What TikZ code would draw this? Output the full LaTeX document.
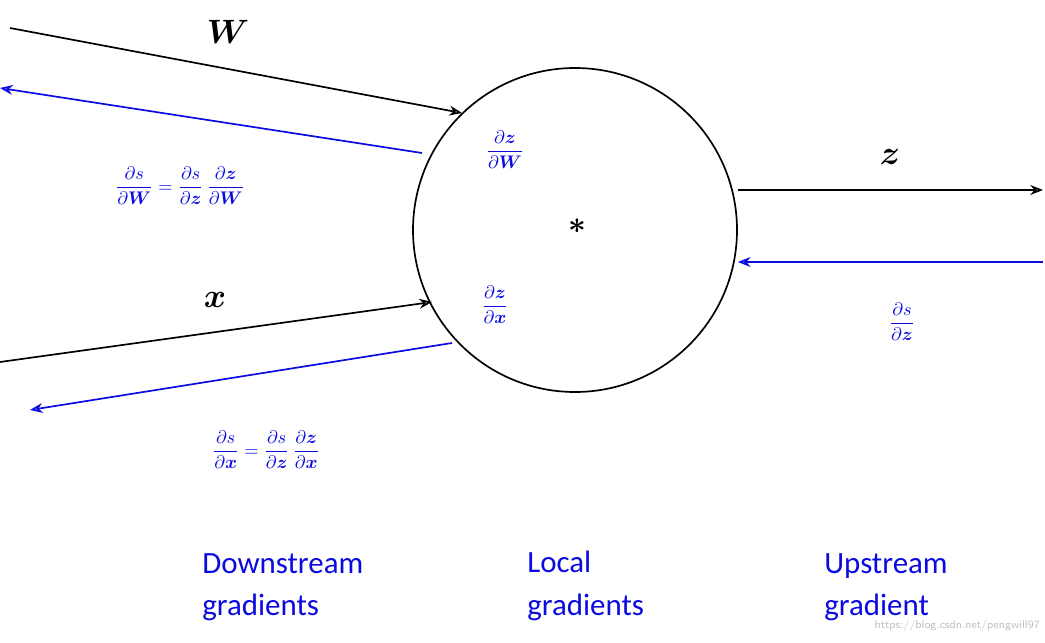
\documentclass[tikz,border=0pt]{standalone}
\usepackage{amsmath,bm}
\usepackage{fontspec}
\usetikzlibrary{arrows.meta}
\newfontfamily\myCal{Carlito}
\definecolor{bl}{RGB}{10,10,225}
\begin{document}
\begin{tikzpicture}[x=0.025cm,y=-0.025cm,
  blk/.style={black,line width=1.2pt,-{Stealth[length=9pt,width=7pt,open]}},
  blu/.style={bl,line width=1.2pt,-{Stealth[length=9pt,width=7pt,open]}},
  mth/.style={inner sep=0pt,scale=1.3},
  lbl/.style={inner sep=0pt,scale=2.4},
  txt/.style={bl,align=left,anchor=west,inner sep=0pt,font=\myCal\fontsize{22}{30}\selectfont}]
\useasboundingbox (0,0) rectangle (1045,643);
\node[circle,draw,line width=1.2pt,minimum size=324*0.025cm] (n) at (575,230) {};
\node[inner sep=0pt,scale=2.2] (star) at (577,226) {$\bm{*}$};
\coordinate (w0) at (10,28); \coordinate (w1) at (462,113);
\coordinate (wb0) at (422,153); \coordinate (wb1) at (0,88);
\coordinate (x0) at (0,362); \coordinate (x1) at (432,302);
\coordinate (xb0) at (452,343); \coordinate (xb1) at (30,410);
\coordinate (z1) at (1043,190); \coordinate (zb0) at (1043,262);
\draw[blk] (w0) -- (w1);
\draw[blu] (wb0) -- (wb1);
\draw[blk] (x0) -- (x1);
\draw[blu] (xb0) -- (xb1);
\draw[blk] (n.east |- z1) -- (z1);
\draw[blu] (zb0) -- (n.east |- zb0);
\node[lbl] (W) at (228,32) {$\bm{W}$};
\node[lbl] (x) at (215,300) {$\bm{x}$};
\node[lbl] (z) at (890,157) {$\bm{z}$};
\node[mth,bl] (dzdW) at (505,150) {$\dfrac{\partial \bm{z}}{\partial \bm{W}}$};
\node[mth,bl] (dzdx) at (495,305) {$\dfrac{\partial \bm{z}}{\partial \bm{x}}$};
\node[mth,bl] (dsdz) at (902,322) {$\dfrac{\partial s}{\partial \bm{z}}$};
\node[mth,bl] (fW) at (180,186) {$\dfrac{\partial s}{\partial \bm{W}}=\dfrac{\partial s}{\partial \bm{z}}\,\dfrac{\partial \bm{z}}{\partial \bm{W}}$};
\node[mth,bl] (fx) at (266,450) {$\dfrac{\partial s}{\partial \bm{x}}=\dfrac{\partial s}{\partial \bm{z}}\,\dfrac{\partial \bm{z}}{\partial \bm{x}}$};
\node[txt] (d) at (202,587) {Downstream\\gradients};
\node[txt] (l) at (527,586) {Local\\gradients};
\node[txt] (u) at (824,587) {Upstream\\gradient};
\node[gray!50,font=\sffamily\fontsize{8}{10}\selectfont,anchor=east,inner sep=0pt] (wm) at (1040,626) {https://blog.csdn.net/pengwill97};
\end{tikzpicture}
\end{document}
